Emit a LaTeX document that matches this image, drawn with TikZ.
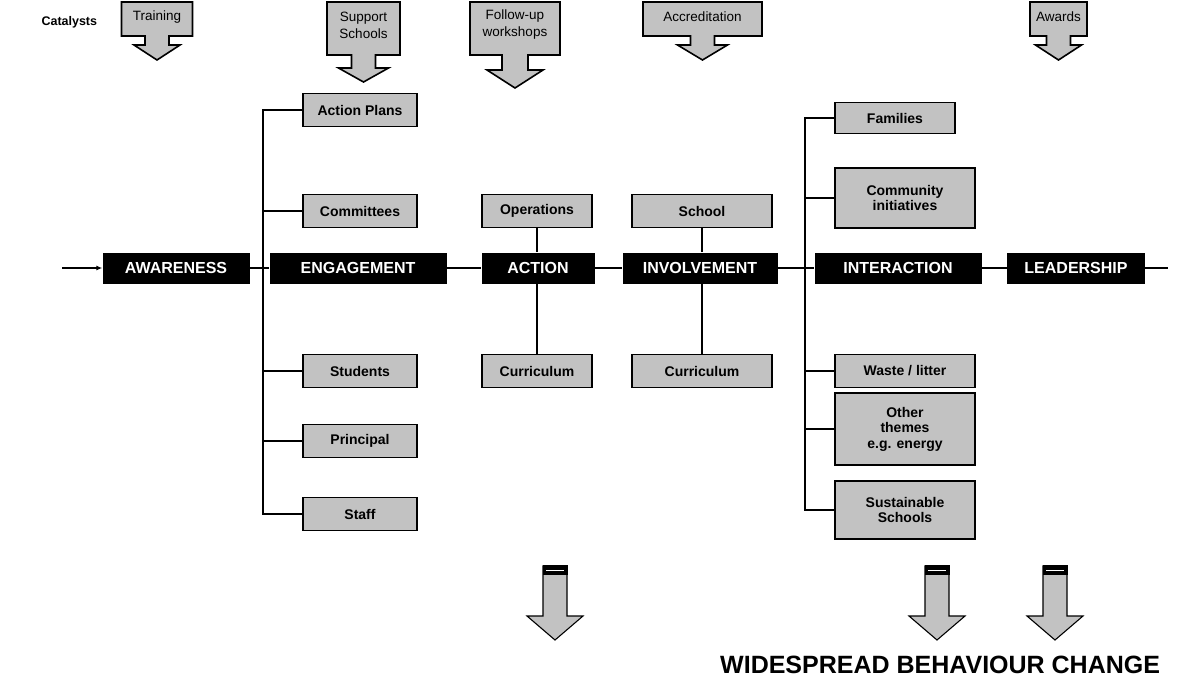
\documentclass[tikz,border=0pt]{standalone}
\usepackage{fontspec}
\setmainfont{Liberation Sans}
\usetikzlibrary{calc,arrows.meta}
\newcommand\drawcallout[8]{%
  \draw[catshape] (#1-#2,#3) -- (#1+#2,#3) -- (#1+#2,#4) -- (#1+#5,#4) -- (#1+#5,#6)
    -- (#1+#7,#6) -- (#1,#8) -- (#1-#7,#6) -- (#1-#5,#6) -- (#1-#5,#4) -- (#1-#2,#4) -- cycle;}
\newcommand\drawdownarrow[3]{%
  \draw[catshape,line width=1.1pt] (#1-12,#2) -- (#1+12,#2) -- (#1+12,#3-24) -- (#1+28,#3-24)
    -- (#1,#3) -- (#1-28,#3-24) -- (#1-12,#3-24) -- cycle;
  \fill[black] (#1-12.5,#2-1) rectangle (#1+12.5,#2+9);
  \draw[white,line width=0.8pt] (#1-9,#2+4) -- (#1+9,#2+4);}
\begin{document}
\begin{tikzpicture}[x=1pt,y=-1pt,
  mainbox/.style={fill=black,text=white,font=\bfseries\fontsize{16}{16}\selectfont,minimum height=31pt,inner sep=0pt},
  graybox/.style={draw=black,line width=1.6pt,fill=black!24,font=\bfseries\fontsize{14}{15.5}\selectfont,align=center,inner sep=0pt},
  catshape/.style={draw=black,line width=1.6pt,fill=black!24,line join=miter},
  cattext/.style={font=\fontsize{13.5}{17}\selectfont,align=center,inner sep=0pt},
  conn/.style={line width=1.3pt}]
\useasboundingbox (0,0) rectangle (1178,689);
\fill[white] (0,0) rectangle (1178,689);

% catalysts
\node[font=\bfseries\fontsize{12.5}{14}\selectfont,anchor=west] (catalysts) at (38,22) {Catalysts};
\drawcallout{157}{35.5}{2}{36}{12}{45}{23}{60}
\node[cattext] (training) at (157,17) {Training};
\drawcallout{363.5}{36.5}{2}{55}{12}{68}{25}{82}
\node[cattext] (support) at (363.5,25) {Support\\Schools};
\drawcallout{515}{45}{2}{55}{13}{70}{28}{88}
\node[cattext] (followup) at (515,25) {Follow-up\\workshops};
\drawcallout{702.5}{59.5}{2}{36}{12}{45}{25}{60}
\node[cattext] (accred) at (702.5,17) {Accreditation};
\drawcallout{1058.5}{28.5}{2}{36}{12}{45}{23}{60}
\node[cattext] (awards) at (1058.5,17) {Awards};

% main chain
\node[mainbox,minimum width=147pt] (awareness) at (176,268) {AWARENESS};
\node[mainbox,minimum width=177pt] (engagement) at (358,268) {ENGAGEMENT};
\node[mainbox,minimum width=113pt] (action) at (538,268) {ACTION};
\node[mainbox,minimum width=155pt] (involvement) at (700,268) {INVOLVEMENT};
\node[mainbox,minimum width=167pt] (interaction) at (898,268) {INTERACTION};
\node[mainbox,minimum width=138pt] (leadership) at (1076,268) {LEADERSHIP};
\coordinate (start) at (62,268);
\coordinate (endl) at (1168,268);
\draw[conn,-{Latex[length=6pt,width=5pt]}] (start) -- (awareness);
\draw[conn] (awareness) -- (engagement) (engagement) -- (action) (action) -- (involvement)
  (involvement) -- (interaction) (interaction) -- (leadership) (leadership) -- (endl);

% left branch
\node[graybox,minimum width=114pt,minimum height=33pt] (plans) at (360,110) {Action Plans};
\node[graybox,minimum width=114pt,minimum height=33pt] (committees) at (360,211) {Committees};
\node[graybox,minimum width=114pt,minimum height=33pt] (students) at (360,371) {Students};
\node[graybox,minimum width=114pt,minimum height=33pt] (principal) at (360,441) {Principal};
\node[graybox,minimum width=114pt,minimum height=33pt] (staff) at (360,514) {Staff};
\coordinate (lt) at (263,110);
\coordinate (lb) at (263,514);
\draw[conn] (plans.west) -- (lt) -- (lb) -- (staff.west);
\draw[conn] (committees.west) -- (committees.west -| lt);
\draw[conn] (students.west) -- (students.west -| lt);
\draw[conn] (principal.west) -- (principal.west -| lt);

% middle
\node[graybox,minimum width=110pt,minimum height=33pt] (operations) at (537,211) {Operations};
\node[graybox,minimum width=110pt,minimum height=33pt] (curr1) at (537,371) {Curriculum};
\node[graybox,minimum width=140pt,minimum height=33pt] (school) at (702,211) {School};
\node[graybox,minimum width=140pt,minimum height=33pt] (curr2) at (702,371) {Curriculum};
\draw[conn] (operations.south) -- (operations.south |- action.north);
\draw[conn] (curr1.north) -- (curr1.north |- action.south);
\draw[conn] (school.south) -- (school.south |- involvement.north);
\draw[conn] (curr2.north) -- (curr2.north |- involvement.south);

% right branch
\node[graybox,minimum width=120pt,minimum height=31pt] (families) at (895,118) {Families};
\node[graybox,minimum width=140pt,minimum height=60pt] (community) at (905,198) {Community\\initiatives};
\node[graybox,minimum width=140pt,minimum height=33pt] (waste) at (905,371) {Waste / litter};
\node[graybox,minimum width=140pt,minimum height=72pt] (other) at (905,429) {Other\\themes\\e.g. energy};
\node[graybox,minimum width=140pt,minimum height=58pt] (sustain) at (905,510) {Sustainable\\Schools};
\coordinate (rt) at (805,118);
\coordinate (rb) at (805,510);
\draw[conn] (families.west) -- (rt) -- (rb) -- (sustain.west);
\draw[conn] (community.west) -- (community.west -| rt);
\draw[conn] (waste.west) -- (waste.west -| rt);
\draw[conn] (other.west) -- (other.west -| rt);

% bottom arrows
\drawdownarrow{555}{566}{640}
\drawdownarrow{937}{566}{640}
\drawdownarrow{1055}{566}{640}
\node[font=\bfseries\fontsize{25}{28}\selectfont,anchor=west,inner sep=0pt] (widespread) at (720,665) {WIDESPREAD BEHAVIOUR CHANGE};
\end{tikzpicture}
\end{document}
